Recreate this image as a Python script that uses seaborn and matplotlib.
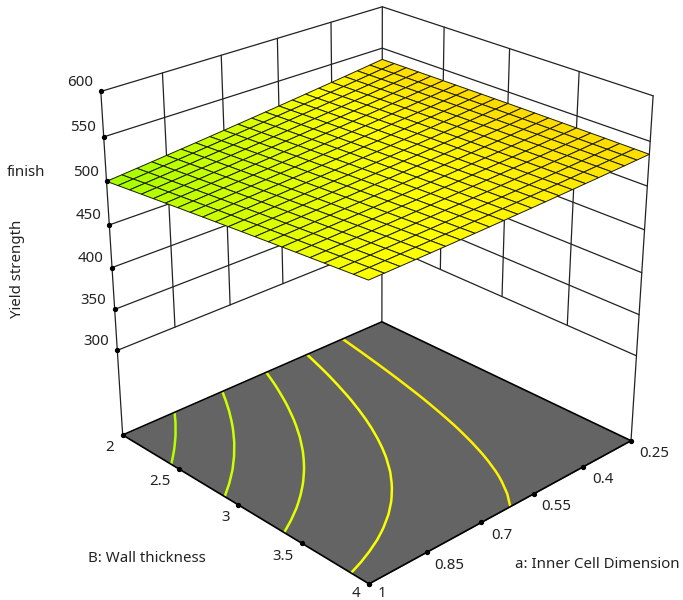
import numpy as np
import seaborn as sns
import matplotlib.pyplot as plt
from mpl_toolkits.mplot3d import proj3d
from matplotlib.colors import TwoSlopeNorm

sns.set_theme(style="white")
plt.rcParams['font.family'] = ['Noto Sans', 'DejaVu Sans']

a_ticks = [0.25, 0.4, 0.55, 0.7, 0.85, 1]
b_ticks = [2, 2.5, 3, 3.5, 4]
z_ticks = [300, 350, 400, 450, 500, 550, 600]
levels = [506, 512, 518, 524, 529.6]
a_grid = [1, 0.9625, 0.925, 0.8875, 0.85, 0.8125, 0.775, 0.7375, 0.7, 0.6625, 0.625,
          0.5875, 0.55, 0.5125, 0.475, 0.4375, 0.4, 0.3625, 0.325, 0.2875, 0.25]
b_grid = [2, 2.1, 2.2, 2.3, 2.4, 2.5, 2.6, 2.7, 2.8, 2.9, 3,
          3.1, 3.2, 3.3, 3.4, 3.5, 3.6, 3.7, 3.8, 3.9, 4]
# rows: b_grid, columns: a_grid
yield_strength = [
    [500.00,501.60,503.22,504.87,506.54,508.22,509.94,511.67,513.42,515.20,517.00,518.82,520.66,522.53,524.42,526.33,528.26,530.21,532.18,534.18,536.20],
    [501.40,502.94,504.50,506.08,507.68,509.30,510.95,512.62,514.31,516.02,517.75,519.51,521.29,523.09,524.91,526.75,528.62,530.51,532.42,534.35,536.30],
    [502.79,504.26,505.76,507.27,508.81,510.37,511.95,513.55,515.18,516.82,518.49,520.18,521.90,523.63,525.39,527.17,528.97,530.79,532.64,534.50,536.39],
    [504.17,505.58,507.00,508.45,509.93,511.42,512.94,514.47,516.03,517.62,519.22,520.85,522.49,524.16,525.86,527.57,529.31,531.06,532.84,534.65,536.47],
    [505.53,506.87,508.24,509.62,511.03,512.46,513.91,515.38,516.88,518.39,519.93,521.49,523.08,524.68,526.31,527.96,529.63,531.32,533.04,534.77,536.53],
    [506.88,508.16,509.46,510.78,512.12,513.48,514.87,516.28,517.71,519.16,520.63,522.13,523.65,525.19,526.75,528.33,529.94,531.57,533.22,534.89,536.58],
    [508.22,509.43,510.66,511.92,513.19,514.49,515.81,517.16,518.52,519.91,521.32,522.75,524.20,525.68,527.17,528.69,530.23,531.80,533.38,534.99,536.62],
    [509.54,510.69,511.85,513.04,514.26,515.49,516.75,518.02,519.32,520.65,521.99,523.36,524.74,526.15,527.59,529.04,530.52,532.01,533.53,535.08,536.64],
    [510.85,511.93,513.03,514.16,515.30,516.47,517.66,518.88,520.11,521.37,522.65,523.95,525.27,526.62,527.98,529.37,530.78,532.22,533.67,535.15,536.65],
    [512.14,513.16,514.20,515.26,516.34,517.44,518.57,519.72,520.89,522.08,523.29,524.53,525.79,527.07,528.37,529.69,531.04,532.41,533.80,535.21,536.64],
    [513.43,514.38,515.35,516.34,517.36,518.40,519.46,520.54,521.65,522.78,523.93,525.10,526.29,527.50,528.74,530.00,531.28,532.58,533.91,535.26,536.62],
    [514.69,515.58,516.49,517.42,518.37,519.34,520.34,521.36,522.40,523.46,524.54,525.65,526.78,527.93,529.10,530.29,531.51,532.75,534.01,535.29,536.59],
    [515.95,516.77,517.61,518.48,519.36,520.27,521.20,522.16,523.13,524.13,525.15,526.19,527.25,528.34,529.44,530.57,531.72,532.90,534.09,535.31,536.55],
    [517.19,517.95,518.72,519.52,520.35,521.19,522.06,522.94,523.85,524.79,525.74,526.72,527.71,528.73,529.78,530.84,531.93,533.03,534.16,535.32,536.49],
    [518.42,519.11,519.82,520.56,521.31,522.09,522.89,523.72,524.56,525.43,526.32,527.23,528.16,529.12,530.09,531.09,532.11,533.16,534.22,535.31,536.42],
    [519.63,520.26,520.91,521.58,522.27,522.98,523.72,524.48,525.26,526.06,526.88,527.73,528.60,529.49,530.40,531.33,532.29,533.27,534.27,535.29,536.33],
    [520.83,521.39,521.98,522.58,523.21,523.86,524.53,525.22,525.94,526.67,527.43,528.21,529.02,529.84,530.69,531.56,532.45,533.36,534.30,535.25,536.23],
    [522.02,522.52,523.03,523.57,524.14,524.72,525.33,525.95,526.60,527.28,527.97,528.69,529.42,530.18,530.97,531.77,532.60,533.44,534.31,535.21,536.12],
    [523.19,523.62,524.08,524.55,525.05,525.57,526.11,526.67,527.26,527.86,528.49,529.14,529.82,530.51,531.23,531.97,532.73,533.51,534.32,535.14,535.99],
    [524.35,524.72,525.11,525.52,525.95,526.40,526.88,527.38,527.90,528.44,529.00,529.59,530.20,530.83,531.48,532.15,532.85,533.57,534.31,535.07,535.85],
    [525.50,525.80,526.12,526.47,526.84,527.22,527.64,528.07,528.52,529.00,529.50,530.02,530.56,531.13,531.72,532.33,532.96,533.61,534.28,534.98,535.70],
]
floor = 193.5

fig = plt.figure(figsize=(6.83, 6))
ax = fig.add_axes([50.85/683, 1.78/600, 633.57/683, 633.57/600], projection='3d', computed_zorder=False)
ax.view_init(25.75, 46.35)
ax.set_proj_type('persp', focal_length=0.5834)
ax.set_box_aspect((4.2116, 4.2001, 4.2851))
ax.set_xlim(0.25, 1, view_margin=0)
ax.set_ylim(2, 4, view_margin=0)
ax.set_zlim(floor, 600, view_margin=0)
ax.set_axis_off()

cmap = sns.blend_palette(['#a0ff00', '#ffff00', '#ffdc00'], as_cmap=True)
norm = TwoSlopeNorm(526, 500, 536)
line = dict(color='#222222', lw=0.9)

# floor
A, B = np.meshgrid([0.25, 1], [2, 4])
ax.plot_surface(A, B, np.full(A.shape, floor), color='#646464', shade=False, zorder=1, linewidth=0)
ax.plot([1, 1, .25, .25, 1], [2, 4, 4, 2, 2], [floor]*5, color='black', lw=1.2, zorder=3)

# walls
for z in z_ticks:
    ax.plot([1, .25, .25], [2, 2, 4], [z]*3, zorder=2, **line)
for a in a_ticks[1:-1]:
    ax.plot([a, a], [2, 2], [300, 600], zorder=2, **line)
for b in b_ticks[1:-1]:
    ax.plot([.25, .25], [b, b], [300, 600], zorder=2, **line)
for a, b in [(1, 2), (.25, 2), (.25, 4)]:
    ax.plot([a, a], [b, b], [floor, 600], zorder=2, **line)

# contours and surface
AA, BB = np.meshgrid(a_grid, b_grid)
ZZ = np.array(yield_strength)
ax.contour(AA, BB, ZZ, levels=levels, zdir='z', offset=floor, cmap=cmap, norm=norm, linewidths=1.8, zorder=2.5)
ax.plot_surface(AA, BB, ZZ, rstride=1, cstride=1, cmap=cmap, norm=norm, shade=False,
                edgecolor='#1c1c08', linewidth=0.7, zorder=4, antialiased=True)

# tick dots
ax.plot([1]*7, [2]*7, z_ticks, 'o', color='black', ms=2.8, zorder=5)
ax.plot([1]*5, b_ticks, [floor]*5, 'o', color='black', ms=2.8, zorder=5)
ax.plot(a_ticks, [4]*6, [floor]*6, 'o', color='black', ms=2.8, zorder=5)

M = ax.get_proj()
def label(a, b, z, s, dx, dy):
    u, v, _ = proj3d.proj_transform(a, b, z, M)
    ax.annotate(s, (u, v), xytext=(dx, dy), textcoords='offset pixels', ha='center', va='center',
                fontsize=10.8, color='#222222', annotation_clip=False)

for z in z_ticks:
    label(1, 2, z, str(z), -21, 9)
for b in b_ticks:
    label(1, b, floor, str(b), -13 if b == int(b) else -19, -10 if b == 4 else -13)
for a in a_ticks:
    label(a, 4, floor, str(a), 13 if a == 1 else (23 if len(str(a)) > 3 else 20), -10 if a == 1 else -13)

def title(x, y, s, **kw):
    fig.text(x/683, 1-y/600, s, ha='center', va='center', fontsize=10.8, color='#222222', **kw)

title(26, 172, 'finish')
title(18, 269, 'Yield strength', rotation=90)
title(147, 559, 'B: Wall thickness')
title(597, 564, 'a: Inner Cell Dimension')

fig.savefig('out.png', dpi=100)
